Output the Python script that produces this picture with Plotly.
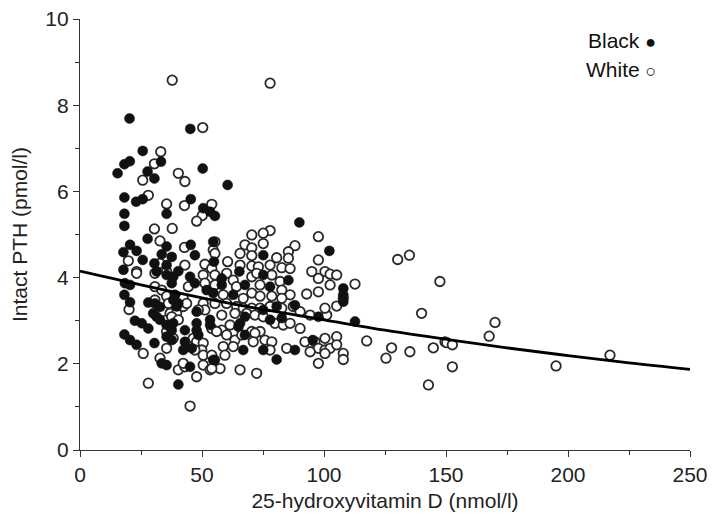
import plotly.graph_objects as go

# Black participants (25-hydroxyvitamin D nmol/l, intact PTH pmol/l)
black_x = [20.3,45.2,25.7,20.4,18.2,33.2,50.3,15.4,27.7,30.5,18.2,23.0,25.7,45.4,18.2,35.5,50.5,53.3,18.2,27.7,
           35.5,45.4,54.6,20.5,17.8,23.2,25.7,33.5,37.6,30.5,35.5,17.8,47.1,40.3,31.4,
           18.4,20.5,35.5,38.2,37.6,45.1,47.1,51.9,18.2,20.5,28.0,30.7,32.8,38.9,38.2,40.3,39.6,47.8,30.0,31.4,
           32.8,22.5,25.3,28.0,35.5,38.2,37.6,35.5,37.6,47.8,47.8,48.5,53.3,53.3,43.0,18.2,20.5,23.2,30.5,43.0,
           45.8,42.3,54.6,33.5,35.5,45.1,40.3,
           60.5,55.3,89.9,75.1,54.9,102.2,65.3,75.1,
           58.1,85.4,58.1,67.6,77.9,54.6,62.8,75.1,80.6,88.1,97.7,67.6,65.6,77.9,82.7,67.6,64.9,66.9,75.1,88.1,
           95.4,55.3,80.6,
           107.9,107.9,107.9,112.7]
black_y = [7.69,7.45,6.94,6.70,6.63,6.69,6.53,6.42,6.46,6.30,5.86,5.76,5.82,5.82,5.48,5.48,5.61,5.53,5.20,4.90,
           4.72,4.76,4.83,4.76,4.59,4.62,4.41,4.54,4.48,4.33,4.29,4.18,4.52,4.15,4.14,
           3.87,3.83,4.06,4.02,3.87,4.02,3.87,3.71,3.60,3.43,3.42,3.40,3.32,3.60,3.48,3.40,3.33,3.21,3.17,3.09,
           3.02,3.00,2.94,2.82,2.90,2.94,2.78,2.63,2.55,2.94,2.78,2.67,3.02,2.90,2.78,2.68,2.55,2.44,2.48,2.51,
           2.36,2.32,2.09,2.01,1.97,1.93,1.52,
           6.15,5.43,5.28,4.52,4.37,4.62,4.14,4.06,
           3.98,3.94,3.83,3.83,3.79,3.64,3.60,3.25,3.33,3.36,3.09,3.09,2.94,3.02,3.06,2.67,2.86,2.32,2.32,2.32,
           2.55,2.09,2.10,
           3.75,3.60,3.44,2.98]

# White participants
white_x = [37.8,77.9,50.3,33.1,30.5,25.7,40.3,43.0,28.0,35.5,42.8,54.0,50.1,47.8,30.5,37.8,32.8,42.8,54.6,19.8,
           32.8,23.2,43.0,51.2,35.5,54.0,
           23.2,30.7,30.7,33.5,44.4,50.5,51.2,20.1,30.7,35.5,36.2,42.3,42.3,43.7,50.5,51.2,48.5,35.5,36.9,39.6,
           37.6,40.3,35.5,38.2,25.9,35.5,46.4,47.8,50.5,49.9,50.5,47.1,32.8,40.3,43.0,42.3,50.5,47.8,53.3,28.0,45.1,
           77.9,75.1,70.4,97.7,75.1,67.6,70.4,55.3,88.1,65.6,85.4,70.4,55.3,60.5,80.6,85.4,97.7,65.6,70.4,73.1,
           77.9,82.7,86.1,95.0,100.4,
           55.3,60.1,62.8,70.4,72.4,78.6,82.0,97.7,55.3,64.1,73.8,82.7,86.1,92.9,97.7,58.7,70.4,66.9,73.8,78.6,
           82.7,55.3,60.1,64.2,66.9,70.4,73.8,77.9,82.7,87.4,90.2,94.3,101.1,58.1,63.5,68.3,71.7,75.1,79.9,83.3,
           86.1,90.2,58.1,61.5,70.4,73.8,54.0,56.0,60.1,63.5,66.3,71.7,75.8,78.6,71.0,58.7,62.8,77.9,84.7,92.2,
           96.3,100.4,97.7,100.4,94.3,54.0,59.4,57.4,54.0,65.6,72.4,97.7,
           102.5,105.2,102.5,112.7,147.5,105.2,100.4,140.0,117.5,105.2,102.5,105.2,107.9,107.9,100.4,127.7,125.4,
           135.2,144.8,149.6,142.8,107.9,
           130.2,135.0,
           170.1,167.7,150.3,152.6,152.6,195.1,217.2]
white_y = [8.58,8.51,7.48,6.92,6.64,6.26,6.42,6.23,5.91,5.71,5.67,5.70,5.44,5.31,5.13,5.14,4.85,4.70,4.64,4.39,
           4.33,4.14,4.29,4.31,4.14,4.21,
           4.10,4.10,3.79,3.71,3.79,4.06,3.87,3.26,3.48,3.57,3.40,3.33,3.52,3.40,3.40,3.25,3.25,3.02,3.17,3.17,
           3.09,3.02,2.75,2.59,2.24,2.36,2.59,2.51,2.48,2.32,2.20,2.32,2.13,1.86,1.93,2.01,1.97,1.70,1.86,1.55,1.02,
           5.09,5.03,4.99,4.95,4.79,4.76,4.69,4.83,4.74,4.56,4.60,4.51,4.56,4.37,4.46,4.45,4.41,4.29,4.27,4.25,
           4.29,4.23,4.21,4.14,4.14,
           4.06,4.10,3.94,4.02,4.10,4.06,3.91,3.98,3.83,3.79,3.83,3.71,3.60,3.62,3.67,3.60,3.64,3.52,3.57,3.57,
           3.52,3.40,3.40,3.33,3.29,3.29,3.29,3.33,3.29,3.33,3.21,3.13,3.13,3.13,3.17,3.17,3.13,3.09,2.94,2.90,
           2.94,2.82,2.78,2.90,2.75,2.75,2.82,2.75,2.67,2.55,2.67,2.71,2.55,2.51,2.51,2.40,2.40,2.32,2.36,2.51,
           2.51,2.59,2.36,2.32,2.28,2.20,2.20,1.89,1.89,1.86,1.78,2.01,
           4.08,4.06,3.83,3.85,3.91,3.34,3.29,3.17,2.53,2.63,2.36,2.44,2.24,2.10,2.24,2.37,2.13,
           2.28,2.37,2.51,1.51,3.52,
           4.42,4.52,
           2.96,2.64,2.49,2.44,1.93,1.95,2.20]

# Fitted regression curve
fit_x = [0, 25, 50, 75, 100, 125, 150, 175, 200, 225, 250]
fit_y = [4.15, 3.83, 3.53, 3.26, 3.02, 2.78, 2.57, 2.37, 2.19, 2.02, 1.87]

x_ticks = [0, 50, 100, 150, 200, 250]
y_ticks = [0, 2, 4, 6, 8, 10]

FONT = "Liberation Sans, Arial, Helvetica, sans-serif"
FS = 21

fig = go.Figure()
fig.add_trace(go.Scatter(
    x=white_x, y=white_y, mode="markers", name="White",
    marker=dict(symbol="circle", size=9.5, color="white",
                line=dict(color="#2a2a2a", width=1.8)),
    showlegend=False, cliponaxis=False))
fig.add_trace(go.Scatter(
    x=black_x, y=black_y, mode="markers", name="Black",
    marker=dict(symbol="circle", size=10, color="#111111",
                line=dict(color="#111111", width=0.5)),
    showlegend=False, cliponaxis=False))
fig.add_trace(go.Scatter(
    x=fit_x, y=fit_y, mode="lines", line=dict(color="black", width=2.8, shape="spline"),
    showlegend=False, hoverinfo="skip"))

axis_common = dict(
    showgrid=False, zeroline=False, showline=True, linecolor="#333333", linewidth=1.2,
    ticks="outside", ticklen=6, tickwidth=1.2, tickcolor="#333333",
    tickfont=dict(family=FONT, size=FS, color="#222222"),
    ticklabeloverflow="allow",
    mirror=False, automargin=False,
)

fig.update_layout(
    width=711, height=521,
    margin=dict(l=72, r=29, t=11, b=79),
    paper_bgcolor="white", plot_bgcolor="white",
    font=dict(family=FONT, color="#222222"),
    xaxis=dict(range=[0, 250], tickvals=x_ticks, ticktext=[str(v) for v in x_ticks],
               title=dict(text="25-hydroxyvitamin D (nmol/l)", font=dict(family=FONT, size=FS), standoff=8),
               minor=dict(dtick=25, ticks="outside", ticklen=4, tickcolor="#333333", tickwidth=1.2),
               **axis_common),
    yaxis=dict(range=[0, 10], tickvals=y_ticks, ticktext=[str(v) for v in y_ticks],
               title=dict(text="Intact PTH (pmol/l)", font=dict(family=FONT, size=FS), standoff=22),
               minor=dict(dtick=1, ticks="outside", ticklen=4, tickcolor="#333333", tickwidth=1.2),
               **axis_common),
    annotations=[
        dict(text="Black <span style='font-size:18px'>●</span>", x=0.948, y=0.951, xref="paper", yref="paper",
             xanchor="right", yanchor="middle",
             showarrow=False, font=dict(family=FONT, size=FS, color="#111111")),
        dict(text="White <span style='font-size:18px'>○</span>", x=0.948, y=0.882, xref="paper", yref="paper",
             xanchor="right", yanchor="middle",
             showarrow=False, font=dict(family=FONT, size=FS, color="#111111")),
    ],
)

fig.write_html("out.html")
